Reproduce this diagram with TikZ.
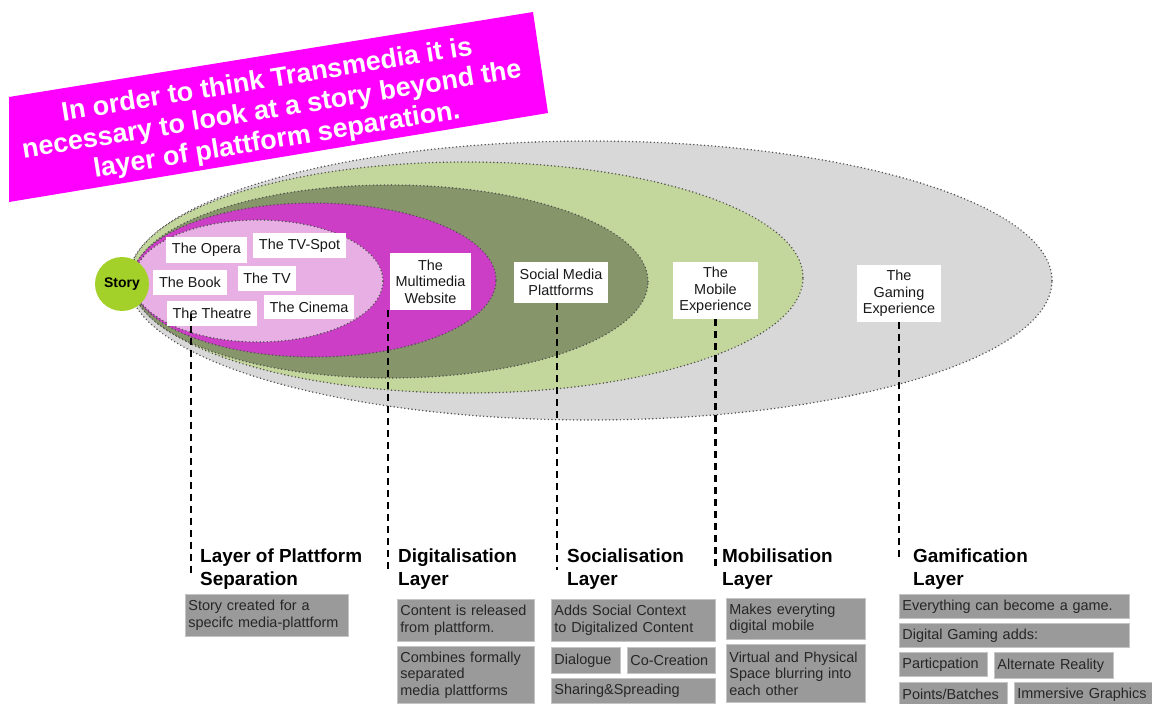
\documentclass[tikz,border=0pt]{standalone}
\usepackage{fontspec}
\setmainfont{Liberation Sans}
\definecolor{grayell}{HTML}{D8D8D8}
\definecolor{lgreen}{HTML}{C3D69B}
\definecolor{olive}{HTML}{87956A}
\definecolor{magell}{HTML}{CC3EC6}
\definecolor{pinkell}{HTML}{E8AFE4}
\definecolor{titlemag}{HTML}{FF00FF}
\definecolor{storygreen}{HTML}{A3D12A}
\definecolor{boxgray}{HTML}{9A9A9A}
\definecolor{boxedge}{HTML}{C4C4C4}
\definecolor{dotgray}{HTML}{505050}
\begin{document}
\begin{tikzpicture}[x=1bp,y=-1bp,
  ell/.style={draw=dotgray, line width=1.6bp, line cap=round, dash pattern=on 0bp off 3.6bp},
  lbl/.style={fill=white, font=\fontsize{14.5}{16.5}\selectfont, align=center, inner sep=2bp, text=black!90},
  gbox/.style={fill=boxgray, draw=boxedge, line width=0.8bp, anchor=north west, align=left,
    font=\fontsize{14.5}{16.5}\selectfont, text=black!85, inner xsep=3bp, inner ysep=1bp,
    execute at begin node={\hyphenpenalty=10000\exhyphenpenalty=10000}},
  head/.style={anchor=north west, align=left, font=\bfseries\fontsize{19}{22.5}\selectfont, inner sep=0pt},
  link/.style={line width=2.6bp, dash pattern=on 7bp off 5bp}
]
\clip (0,0) rectangle (1152,704);
\fill[white] (0,0) rectangle (1152,704);

% title banner
\fill[titlemag] (9,97) -- (533,12) -- (548,113) -- (9,202) -- cycle;
\node[rotate=9.2, text=white, align=center, font=\bfseries\fontsize{27}{30.5}\selectfont] (title) at (272,111)
  {In order to think Transmedia it is\\necessary to look at a story beyond the\\layer of plattform separation.};

% nested ellipses
\fill[grayell] (590,280.5) ellipse [x radius=462bp, y radius=139.5bp];
\draw[ell] (590,280.5) ellipse [x radius=462bp, y radius=139.5bp];
\fill[lgreen] (466.5,277.5) ellipse [x radius=336.5bp, y radius=115.5bp];
\draw[ell] (466.5,277.5) ellipse [x radius=336.5bp, y radius=115.5bp];
\fill[olive] (390,281.5) ellipse [x radius=258bp, y radius=96.5bp];
\draw[ell] (390,281.5) ellipse [x radius=258bp, y radius=96.5bp];
\fill[magell] (314,280) ellipse [x radius=182bp, y radius=77bp];
\draw[ell] (314,280) ellipse [x radius=182bp, y radius=77bp];
\fill[pinkell] (258,281) ellipse [x radius=125bp, y radius=61bp];
\draw[ell] (258,281) ellipse [x radius=125bp, y radius=61bp];

% platform labels
\node[lbl, minimum width=81bp, minimum height=26bp] (opera) at (206.5,250) {The Opera};
\node[lbl, minimum width=93bp, minimum height=25bp] (tvspot) at (299.5,245.5) {The TV-Spot};
\node[lbl, minimum width=74bp, minimum height=25bp] (book) at (190,282.5) {The Book};
\node[lbl, minimum width=58bp, minimum height=25bp] (tv) at (267,278.5) {The TV};
\node[lbl, minimum width=90bp, minimum height=25bp] (theatre) at (212,313.5) {The Theatre};
\node[lbl, minimum width=90bp, minimum height=24bp] (cinema) at (309,307) {The Cinema};
\node[lbl, minimum width=81bp, minimum height=57bp] (multimedia) at (430.5,281.5) {The\\Multimedia\\Website};
\node[lbl, minimum width=94bp, minimum height=41bp] (social) at (561,282.5) {Social Media\\Plattforms};
\node[lbl, minimum width=85bp, minimum height=57bp] (mobile) at (715.5,290.5) {The\\Mobile\\Experience};
\node[lbl, minimum width=84bp, minimum height=57bp] (gaming) at (899,293.5) {The\\Gaming\\Experience};

% story
\node[circle, fill=storygreen, minimum size=54bp, inner sep=0pt,
  font=\bfseries\fontsize{14}{16}\selectfont] (story) at (122,284) {Story};

% layer headings
\node[head] (h1) at (200,549) {Layer of Plattform\\Separation};
\node[head] (h2) at (398,549) {Digitalisation\\Layer};
\node[head] (h3) at (567,549) {Socialisation\\Layer};
\node[head] (h4) at (722,549) {Mobilisation\\Layer};
\node[head] (h5) at (913,549) {Gamification\\Layer};

% dashed connectors
\coordinate (e1) at (191,575);
\coordinate (e2) at (388,571);
\coordinate (e3) at (557,570);
\coordinate (e4) at (715.5,567);
\coordinate (e5) at (899,559);
\draw[link] (theatre.center -| e1) -- (e1);
\draw[link] (multimedia.south -| e2) -- (e2);
\draw[link] (social.south -| e3) -- (e3);
\draw[link] (mobile.south -| e4) -- (e4);
\draw[link] (gaming.south -| e5) -- (e5);

% description boxes
\node[gbox, text width=157bp, minimum height=42bp] (b1) at (185,594) {Story created for a\\specifc media-plattform};
\node[gbox, text width=131bp, minimum height=42bp] (b2) at (397,599) {Content is released\\from plattform.};
\node[gbox, text width=131bp, minimum height=57bp] (b3) at (397,646) {Combines formally\\separated\\media plattforms};
\node[gbox, text width=158bp, minimum height=42bp] (b4) at (551,599) {Adds Social Context\\to Digitalized Content};
\node[gbox, text width=63bp, minimum height=26bp] (b5) at (551,647) {Dialogue};
\node[gbox, text width=82bp, minimum height=26bp] (b6) at (627,647) {Co-Creation};
\node[gbox, text width=158bp, minimum height=25bp] (b7) at (551,678) {Sharing\&Spreading};
\node[gbox, text width=133bp, minimum height=41bp] (b8) at (726,598) {Makes everyting\\digital mobile};
\node[gbox, text width=133bp, minimum height=58bp] (b9) at (726,644) {Virtual and Physical\\Space blurring into\\each other};
\node[gbox, text width=224bp, minimum height=24bp] (b10) at (899,594) {Everything can become a game.};
\node[gbox, text width=224bp, minimum height=24bp] (b11) at (899,623) {Digital Gaming adds:};
\node[gbox, text width=82bp, minimum height=24bp] (b12) at (899,652) {Particpation};
\node[gbox, text width=113bp, minimum height=26bp] (b13) at (994,652) {Alternate Reality};
\node[gbox, text width=102bp, minimum height=24bp] (b14) at (899,682) {Points/Batches};
\node[gbox, text width=132bp, minimum height=24bp] (b15) at (1014,682) {Immersive Graphics};
\end{tikzpicture}
\end{document}
